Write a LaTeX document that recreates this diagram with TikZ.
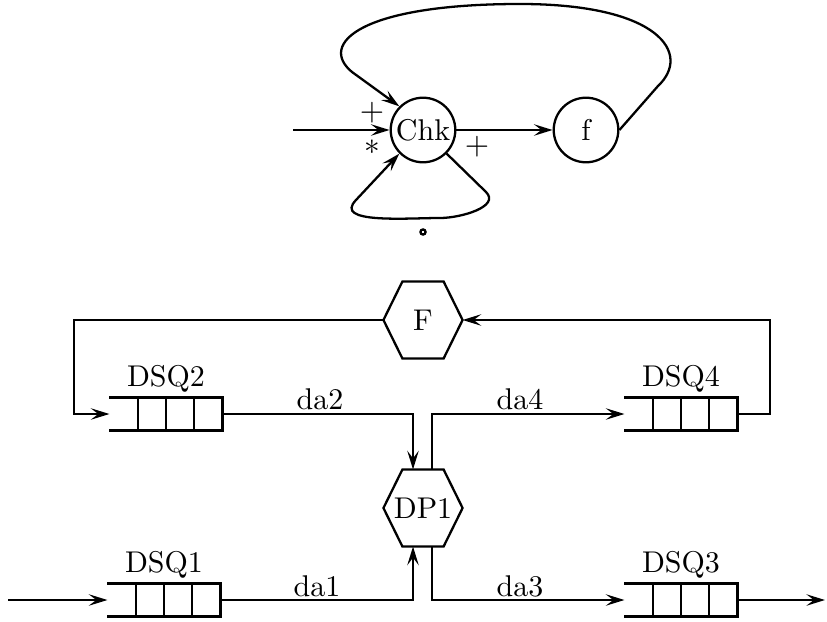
\documentclass[tikz,border=0pt]{standalone}
\usetikzlibrary{calc,arrows.meta}
\newcommand{\dsq}[3]{%
  \node[qbox] (#1) at (#2) {};
  \draw[thick] (#1.north west) -- (#1.north east) -- (#1.south east) -- (#1.south west);
  \foreach \k in {1,2,3}
    \draw[thick] ($(#1.north west)!\k/4!(#1.north east)$) -- ($(#1.south west)!\k/4!(#1.south east)$);
  \node[above,inner sep=1.5pt] (#1lbl) at (#1.north) {#3};
}
\newcommand{\hexa}[3]{%
  \node[hbox] (#1) at (#2) {#3};
  \draw[thick] (#1.west) -- ($(#1.north west)+(19,0)$) -- ($(#1.north east)+(-19,0)$) -- (#1.east)
    -- ($(#1.south east)+(-19,0)$) -- ($(#1.south west)+(19,0)$) -- cycle;
}
\begin{document}
\begin{tikzpicture}[x=0.35pt,y=-0.35pt,
  >={Stealth[length=6.5pt,width=4pt,inset=2.6pt]},
  every node/.style={font=\fontsize{10.5}{12}\selectfont},
  qbox/.style={minimum width=39.2pt,minimum height=11.2pt,inner sep=0pt},
  hbox/.style={minimum width=27.3pt,minimum height=26.6pt,inner sep=0pt},
  proc/.style={circle,draw,thick,minimum size=22.6pt,inner sep=0pt}]
\useasboundingbox (0,0) rectangle (827,621);
\node[proc] (chk) at (423,130) {Chk};
\node[proc] (f) at (586,130) {f};
\coordinate (in1) at (293,130);
\draw[thick,->] (in1) -- (chk);
\draw[thick,->] (chk) -- (f);
\draw[thick,->] (f.east) -- (658,86) .. controls (692,54) and (660,4) .. (520,4)
  .. controls (360,4) and (318,44) .. (352,72) -- (chk.135);
\draw[thick,->] (chk.-45) -- (486,192) to[out=-45,in=0] (440,218) to[out=180,in=-134] (356,200)
  -- (chk.-135);
\node (pl1) at (372,113) {$+$};
\node (ast) at (372,147) {$*$};
\node (pl2) at (477,147) {$+$};
\node[circle,draw,thick,inner sep=0pt,minimum size=1.8pt] (sm) at (423,232) {};
\hexa{F}{423,320}{F}
\hexa{dp1}{423,508}{DP1}
\dsq{q2}{166,414}{DSQ2}
\dsq{q4}{681,414}{DSQ4}
\dsq{q1}{164,600}{DSQ1}
\dsq{q3}{681,600}{DSQ3}
\coordinate (c1) at (74,320);
\coordinate (c3) at (770,414);
\coordinate (in2) at (8,600);
\coordinate (out) at (825,600);
\draw[thick,->] (F.west) -- (c1) |- (q2.west);
\draw[thick,->] (q4.east) -- (c3) |- (F.east);
\draw[thick,->] (q2.east) -| ($(dp1.north)+(-10,0)$);
\draw[thick,->] ($(dp1.north)+(9,0)$) |- (q4.west);
\draw[thick,->] (q1.east) -| ($(dp1.south)+(-10,0)$);
\draw[thick,->] ($(dp1.south)+(9,0)$) |- (q3.west);
\draw[thick,->] (in2) -- (q1.west);
\draw[thick,->] (q3.east) -- (out);
\node (da2) at (320,399) {da2};
\node (da4) at (520,399) {da4};
\node (da1) at (317,586) {da1};
\node (da3) at (520,586) {da3};
\end{tikzpicture}
\end{document}
